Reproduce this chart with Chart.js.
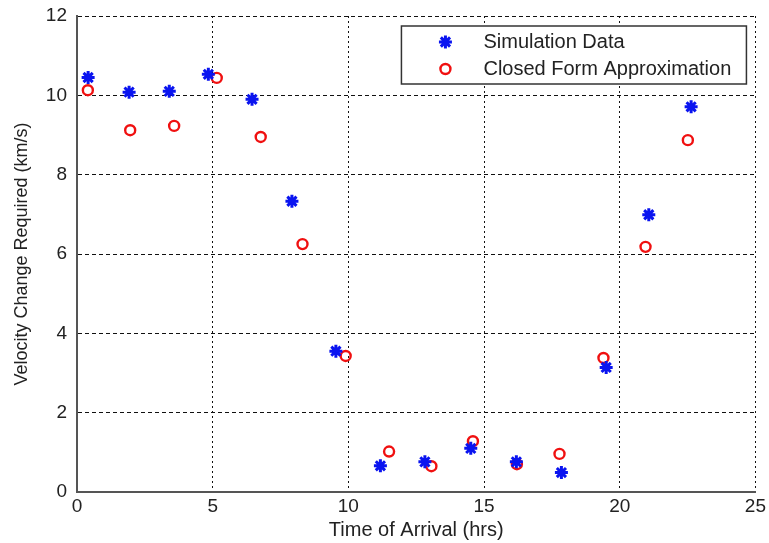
<html lang="en">
<head>
    <meta charset="UTF-8">
    <title>Velocity change vs time of arrival</title>
    <script src="https://cdn.jsdelivr.net/npm/chart.js"></script>
    <style>
        body { margin: 0; background: #fff; }
        #grafico { display: block; }
    </style>
</head>
<body>
    <canvas id="grafico" width="769" height="543"></canvas>
</body>
</html>

<script>
    // arrival times (hrs) and required delta-v (km/s)
    const simTempo = [0.41, 1.92, 3.40, 4.84, 6.45, 7.92, 9.54, 11.18, 12.82, 14.51, 16.19, 17.85, 19.50, 21.07, 22.63];
    const simDeltaV = [10.45, 10.08, 10.10, 10.53, 9.90, 7.33, 3.55, 0.66, 0.76, 1.10, 0.76, 0.49, 3.14, 6.99, 9.71];

    const aproxTempo = [0.40, 1.96, 3.58, 5.15, 6.77, 8.31, 9.90, 11.50, 13.06, 14.59, 16.21, 17.78, 19.40, 20.95, 22.51];
    const aproxDeltaV = [10.13, 9.12, 9.23, 10.44, 8.95, 6.25, 3.43, 1.02, 0.65, 1.28, 0.70, 0.96, 3.38, 6.18, 8.87];

    const xTicks = [0, 5, 10, 15, 20, 25];
    const yTicks = [0, 2, 4, 6, 8, 10, 12];
    const nomes = ['Simulation Data', 'Closed Form Approximation'];

    const fonte = '"Liberation Sans", Arial, sans-serif';
    const corTexto = '#222';

    function pares(xs, ys) {
        return xs.map((x, i) => ({ x: x, y: ys[i] }));
    }

    // boxed legend drawn inside the plot, top right
    const legendaCaixa = {
        id: 'legendaCaixa',
        afterDatasetsDraw(chart) {
            const ctx = chart.ctx;
            const a = chart.chartArea;
            const w = 345, h = 58;
            const x0 = a.right - 9 - w, y0 = a.top + 10;
            ctx.save();
            ctx.fillStyle = '#fff';
            ctx.fillRect(x0, y0, w, h);
            ctx.strokeStyle = '#333';
            ctx.lineWidth = 1.5;
            ctx.strokeRect(x0, y0, w, h);
            chart.data.datasets.forEach((ds, i) => {
                const yy = y0 + 16 + i * 27;
                ctx.strokeStyle = ds.borderColor;
                ctx.fillStyle = ds.backgroundColor;
                ctx.lineWidth = ds.borderWidth;
                Chart.helpers.drawPoint(ctx, {
                    pointStyle: ds.pointStyle,
                    radius: ds.pointRadius,
                    borderWidth: ds.borderWidth,
                    rotation: 0
                }, x0 + 44, yy);
                ctx.font = '20px ' + fonte;
                ctx.fillStyle = corTexto;
                ctx.textBaseline = 'middle';
                ctx.fillText(ds.label, x0 + 82, yy);
            });
            ctx.restore();
        }
    };

    const grafico = document.getElementById('grafico');

    new Chart(grafico, {
        type: 'scatter',
        data: {
            datasets: [{
                label: nomes[0],
                data: pares(simTempo, simDeltaV),
                pointStyle: 'star',
                pointRadius: 6.5,
                borderWidth: 3,
                borderColor: '#0a14f0',
                backgroundColor: '#0a14f0'
            }, {
                label: nomes[1],
                data: pares(aproxTempo, aproxDeltaV),
                pointStyle: 'circle',
                pointRadius: 5,
                borderWidth: 2.4,
                borderColor: '#f01010',
                backgroundColor: 'rgba(0,0,0,0)'
            }]
        },
        options: {
            responsive: false,
            animation: false,
            layout: { padding: { top: 16, right: 12, left: 0, bottom: 0 } },
            plugins: {
                legend: { display: false },
                tooltip: { enabled: false }
            },
            scales: {
                x: {
                    min: 0,
                    max: 25,
                    afterBuildTicks: (s) => { s.ticks = xTicks.map(v => ({ value: v })); },
                    afterFit: (s) => { s.height = 51; },
                    // dotted verticals
                    grid: { color: '#111', lineWidth: 1, drawTicks: false },
                    border: { display: true, color: '#555', width: 2, dash: [2, 3] },
                    ticks: { color: corTexto, font: { family: fonte, size: 19 }, padding: 3, maxRotation: 0 },
                    title: { display: true, text: 'Time of Arrival (hrs)', color: corTexto, font: { family: fonte, size: 20 }, padding: { top: 0, bottom: 1 } }
                },
                y: {
                    min: 0,
                    max: 12,
                    afterBuildTicks: (s) => { s.ticks = yTicks.map(v => ({ value: v })); },
                    afterFit: (s) => { s.width = 77; s.paddingTop = 0; s.paddingBottom = 0; },
                    // dashed horizontals
                    grid: { color: '#111', lineWidth: 1, drawTicks: false },
                    border: { display: true, color: '#555', width: 2, dash: [4, 3] },
                    ticks: { color: corTexto, font: { family: fonte, size: 19 }, padding: 10 },
                    title: { display: true, text: 'Velocity Change Required (km/s)', color: corTexto, font: { family: fonte, size: 18 }, padding: { top: 11, bottom: 0 } }
                }
            }
        },
        plugins: [legendaCaixa]
    });
</script>
